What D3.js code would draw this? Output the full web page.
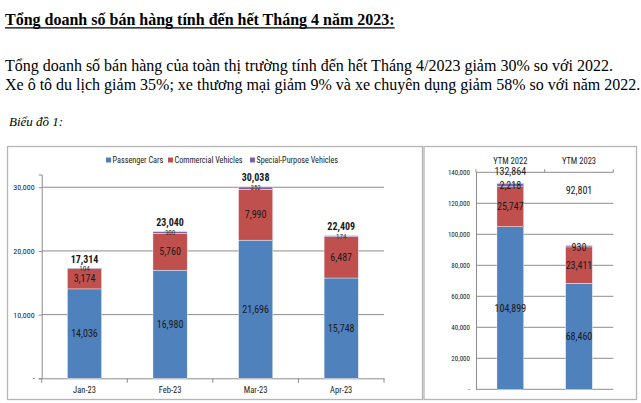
<!DOCTYPE html>
<html>
<head>
<meta charset="utf-8">
<script src="https://cdn.jsdelivr.net/npm/d3@7"></script>
</head>
<body style="margin:0;padding:0;background:#fff">
<script>
// ---- Data ----
const months = ["Jan-23", "Feb-23", "Mar-23", "Apr-23"];
const passengerCars = [14036, 16980, 21696, 15748];
const commercialVehicles = [3174, 5760, 7990, 6487];
const specialPurpose = [104, 300, 352, 174];
const monthTotals = [17314, 23040, 30038, 22409];

const ytmCategories = ["YTM 2022", "YTM 2023"];
const ytmPassenger = [104899, 68460];
const ytmCommercial = [25747, 23411];
const ytmSpecial = [2218, 930];
const ytmTotals = [132864, 92801];

const seriesNames = ["Passenger Cars", "Commercial Vehicles", "Special-Purpose Vehicles"];
const leftTicks = [0, 10000, 20000, 30000];
const rightTicks = [0, 20000, 40000, 60000, 80000, 100000, 120000, 140000];

const colors = ["#4F81BD", "#C0504D", "#8064A2"];
const fmt = d3.format(",");
const tickFmt = d => d === 0 ? "-" : fmt(d);

const NARROW = '"Roboto Condensed", "DejaVu Sans Condensed", Roboto';
const TXT = "#1a1a1a";

const W = 641, H = 403;
const svg = d3.select("body").append("svg").attr("width", W).attr("height", H).style("display", "block");

function headerLine(str, x, y, size, opts) {
  const t = svg.append("text").attr("x", x).attr("y", y)
    .style("font-family", '"Liberation Serif"')
    .attr("fill", "#000").attr("font-size", size)
    .text(str);
  if (opts.bold) t.attr("font-weight", "bold");
  if (opts.italic) t.attr("font-style", "italic");
  return t;
}

// ---- Header text ----
const title = headerLine("Tổng doanh số bán hàng tính đến hết Tháng 4 năm 2023:", 5, 25, 16, { bold: true });
const tl = title.node().getComputedTextLength();
svg.append("line").attr("x1", 5).attr("x2", 5 + tl)
  .attr("y1", 27.8).attr("y2", 27.8).attr("stroke", "#000").attr("stroke-width", 1.3);
headerLine("Tổng doanh số bán hàng của toàn thị trường tính đến hết Tháng 4/2023 giảm 30% so với 2022.", 5, 71, 16, {});
headerLine("Xe ô tô du lịch giảm 35%; xe thương mại giảm 9% và xe chuyên dụng giảm 58% so với năm 2022.", 5, 90, 16, {});
headerLine("Biểu đồ 1:", 9, 126, 13, { italic: true });

// ---- Panels ----
svg.append("rect").attr("x", 7.5).attr("y", 146.5).attr("width", 415).attr("height", 253)
  .attr("fill", "none").attr("stroke", "#b5b5b5").attr("stroke-width", 1.3);
svg.append("rect").attr("x", 424).attr("y", 146.5).attr("width", 212.5).attr("height", 253)
  .attr("fill", "none").attr("stroke", "#b5b5b5").attr("stroke-width", 1.3);

const gridColor = "#8c8c8c";

// ================= Left chart =================
const L = svg.append("g").style("font-family", NARROW);
const xL = d3.scaleBand().domain(months).range([41.7, 384]).padding(0);
const yL = d3.scaleLinear().domain([0, 32000]).range([378.3, 174.5]);
const barWL = xL.bandwidth() * 0.4;

L.append("g").selectAll("line").data(leftTicks.filter(d => d > 0)).join("line")
  .attr("x1", xL.range()[0]).attr("x2", xL.range()[1])
  .attr("y1", d => yL(d)).attr("y2", d => yL(d))
  .attr("stroke", gridColor).attr("stroke-width", 1);

const yAxisL = L.append("g").attr("transform", `translate(${xL.range()[0]},0)`)
  .call(d3.axisLeft(yL).tickValues(leftTicks).tickFormat(tickFmt).tickSize(3).tickPadding(4));
yAxisL.attr("font-family", null);
yAxisL.select(".domain").attr("stroke", gridColor);
yAxisL.selectAll(".tick line").attr("stroke", gridColor);
yAxisL.selectAll("text").attr("font-size", 8).attr("fill", TXT);

const xAxisL = L.append("g").attr("transform", `translate(0,${yL(0)})`)
  .call(d3.axisBottom(xL).tickSize(0).tickPadding(9));
xAxisL.attr("font-family", null);
xAxisL.select(".domain").attr("stroke", gridColor);
xAxisL.selectAll("text").attr("font-size", 8.5).attr("fill", TXT);
const boundsL = xL.domain().map(d => xL(d)).concat([xL.range()[1]]);
L.append("g").selectAll("line").data(boundsL).join("line")
  .attr("x1", d => d).attr("x2", d => d)
  .attr("y1", yL(0)).attr("y2", yL(0) + 4.5)
  .attr("stroke", gridColor);

const leftRows = months.map((m, i) => ({ cat: m, v: [passengerCars[i], commercialVehicles[i], specialPurpose[i]], total: monthTotals[i] }));
leftRows.forEach(r => {
  let base = 0;
  const cx = xL(r.cat) + xL.bandwidth() / 2;
  r.v.forEach((val, k) => {
    L.append("rect")
      .attr("x", cx - barWL / 2).attr("width", barWL)
      .attr("y", yL(base + val)).attr("height", yL(base) - yL(base + val))
      .attr("fill", colors[k]).attr("stroke", "#fff").attr("stroke-width", 0.4);
    if (k < 2) {
      L.append("text").attr("x", cx).attr("y", yL(base + val / 2))
        .attr("text-anchor", "middle").attr("dominant-baseline", "central")
        .attr("font-size", 10).attr("fill", TXT).text(fmt(val));
    } else {
      L.append("text").attr("x", cx).attr("y", yL(base + val) + 1.3)
        .attr("text-anchor", "middle").attr("dominant-baseline", "central")
        .attr("font-size", 7).attr("fill", "#333").text(fmt(val));
    }
    base += val;
  });
  L.append("text").attr("x", cx).attr("y", yL(r.total) - 9)
    .attr("text-anchor", "middle").attr("dominant-baseline", "central")
    .attr("font-size", 10).attr("font-weight", "bold").attr("fill", TXT).text(fmt(r.total));
});

// legend
const legendX = [106, 168, 250];
seriesNames.forEach((name, k) => {
  L.append("rect").attr("x", legendX[k]).attr("y", 157.5).attr("width", 5).attr("height", 5).attr("fill", colors[k]);
  L.append("text").attr("x", legendX[k] + 6.5).attr("y", 160).attr("dominant-baseline", "central")
    .attr("font-size", 8.2).attr("fill", TXT).text(name);
});

// ================= Right chart =================
const R = svg.append("g").style("font-family", NARROW);
const xR = d3.scaleBand().domain(ytmCategories).range([476, 613.3]).padding(0);
const yR = d3.scaleLinear().domain([0, 140000]).range([389.3, 172.3]);
const barWR = xR.bandwidth() * 0.39;

R.append("g").selectAll("line").data(rightTicks.filter(d => d > 0)).join("line")
  .attr("x1", xR.range()[0]).attr("x2", xR.range()[1])
  .attr("y1", d => yR(d)).attr("y2", d => yR(d))
  .attr("stroke", gridColor).attr("stroke-width", 1);

const yAxisR = R.append("g").attr("transform", `translate(${xR.range()[0]},0)`)
  .call(d3.axisLeft(yR).tickValues(rightTicks).tickFormat(tickFmt).tickSize(0).tickPadding(6));
yAxisR.attr("font-family", null);
yAxisR.select(".domain").attr("stroke", gridColor);
yAxisR.selectAll("text").attr("font-size", 7).attr("fill", TXT);

R.append("line").attr("x1", xR.range()[0]).attr("x2", xR.range()[1])
  .attr("y1", yR(0)).attr("y2", yR(0)).attr("stroke", gridColor);
const xAxisR = R.append("g").attr("transform", `translate(0,${yR(140000)})`)
  .call(d3.axisTop(xR).tickSize(0).tickPadding(6));
xAxisR.attr("font-family", null);
xAxisR.select(".domain").remove();
xAxisR.selectAll("text").attr("font-size", 8.5).attr("fill", TXT).attr("dy", "-0.3em");
const boundsR = xR.domain().map(d => xR(d)).concat([xR.range()[1]]);
R.append("g").selectAll("line").data(boundsR).join("line")
  .attr("x1", d => d).attr("x2", d => d)
  .attr("y1", yR(140000)).attr("y2", yR(140000) - 3)
  .attr("stroke", gridColor);

const rightRows = ytmCategories.map((c, i) => ({ cat: c, v: [ytmPassenger[i], ytmCommercial[i], ytmSpecial[i]], total: ytmTotals[i] }));
rightRows.forEach(r => {
  let base = 0;
  const cx = xR(r.cat) + xR.bandwidth() / 2;
  r.v.forEach((val, k) => {
    R.append("rect")
      .attr("x", cx - barWR / 2).attr("width", barWR)
      .attr("y", yR(base + val)).attr("height", yR(base) - yR(base + val))
      .attr("fill", colors[k]).attr("stroke", "#fff").attr("stroke-width", 0.4);
    const ty = k < 2 ? yR(base + val / 2) : yR(base + val) + 2.5;
    R.append("text").attr("x", cx).attr("y", ty)
      .attr("text-anchor", "middle").attr("dominant-baseline", "central")
      .attr("font-size", 10).attr("fill", TXT).text(fmt(val));
    base += val;
  });
});
R.append("text").attr("x", xR(ytmCategories[0]) + xR.bandwidth() / 2).attr("y", yR(ytmTotals[0]) - 12)
  .attr("text-anchor", "middle").attr("dominant-baseline", "central").attr("font-size", 10).attr("fill", TXT).text(fmt(ytmTotals[0]));
R.append("text").attr("x", xR(ytmCategories[1]) + xR.bandwidth() / 2).attr("y", yR(128000))
  .attr("text-anchor", "middle").attr("dominant-baseline", "central").attr("font-size", 10).attr("fill", TXT).text(fmt(ytmTotals[1]));
</script>
</body>
</html>
